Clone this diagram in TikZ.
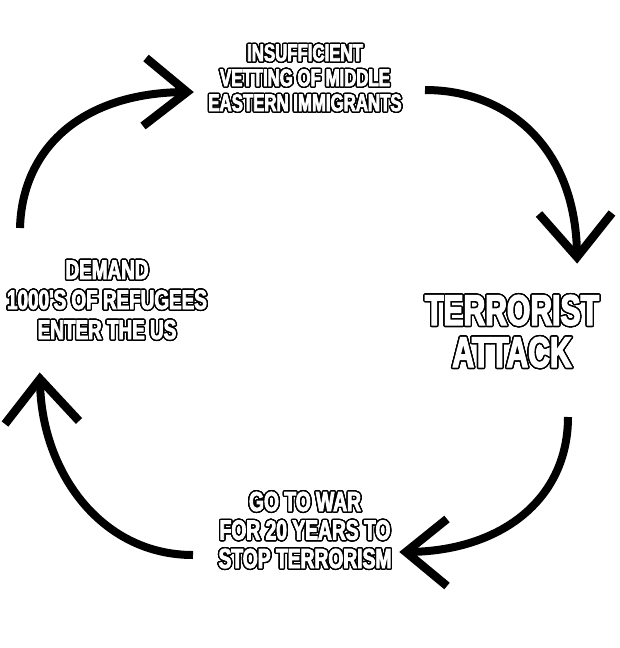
\documentclass[tikz,border=0pt]{standalone}
\usepackage{fontspec}
\usepackage{contour}
\newfontfamily\memefont[FakeStretch=0.70,FakeBold=3]{Liberation Sans Bold}
\contourlength{1.4pt}
\contournumber{24}
\newcommand\ct[1]{\contour{black}{#1}}
\begin{document}
\begin{tikzpicture}[x=1pt,y=-1pt,
  meme/.style={text=white, align=center, inner sep=0pt, anchor=base},
  shaft/.style={line width=8pt, draw=black},
  barb/.style={line width=8.5pt, draw=black, line join=miter, miter limit=10}]
\useasboundingbox[fill=white] (0,0) rectangle (620,648);

% texts (anchor = baseline of last line)
\node[meme, font=\memefont\fontsize{24}{25}\selectfont] (vet) at (305,111)
  {\ct{INSUFFICIENT}\\\ct{VETTING OF MIDDLE}\\\ct{EASTERN IMMIGRANTS}};
\node[meme, font=\memefont\fontsize{43}{42}\selectfont] (att) at (512,367)
  {\ct{TERRORIST}\\\ct{ATTACK}};
\node[meme, font=\memefont\fontsize{27.5}{28.5}\selectfont] (war) at (305,568)
  {\ct{GO TO WAR}\\\ct{FOR 20 YEARS TO}\\\ct{STOP TERRORISM}};
\node[meme, font=\memefont\fontsize{27}{30}\selectfont] (dem) at (107,339)
  {\ct{DEMAND}\\\ct{1000'S OF REFUGEES}\\\ct{ENTER THE US}};

% arrow ends
\coordinate (a1s) at (20,228);  \coordinate (a1v) at (187,92);
\coordinate (a1w1) at (146,58); \coordinate (a1w2) at (143,126);
\coordinate (a2s) at (425,90);  \coordinate (a2v) at (577,257);
\coordinate (a2w1) at (539,214); \coordinate (a2w2) at (612,213);
\coordinate (a3s) at (568,417); \coordinate (a3v) at (406,552);
\coordinate (a3w1) at (447,519); \coordinate (a3w2) at (447,586);
\coordinate (a4s) at (193,555); \coordinate (a4v) at (40,379);
\coordinate (a4w1) at (5,424);  \coordinate (a4w2) at (79,421);

% arrow 1: demand -> vetting
\draw[shaft] (a1s) .. controls (22,150) and (80,92) .. (a1v);
\draw[barb] (a1w1) -- (a1v) -- (a1w2);
% arrow 2: vetting -> attack
\draw[shaft] (a2s) .. controls (510,90) and (577,150) .. (a2v);
\draw[barb] (a2w1) -- (a2v) -- (a2w2);
% arrow 3: attack -> war
\draw[shaft] (a3s) .. controls (568,500) and (500,552) .. (a3v);
\draw[barb] (a3w1) -- (a3v) -- (a3w2);
% arrow 4: war -> demand
\draw[shaft] (a4s) .. controls (100,555) and (40,470) .. (a4v);
\draw[barb] (a4w1) -- (a4v) -- (a4w2);
\end{tikzpicture}
\end{document}
